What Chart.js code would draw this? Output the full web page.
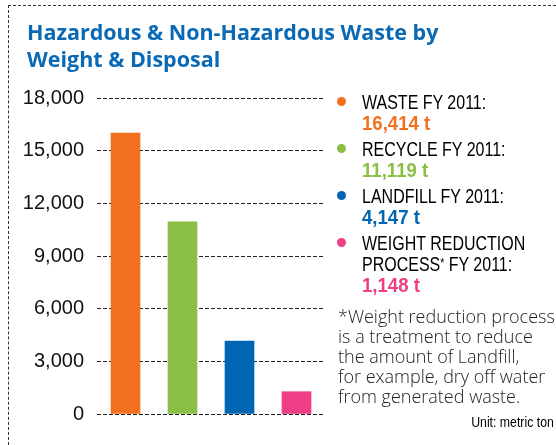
<!DOCTYPE html>
<html>
<head>
<meta charset="utf-8">
<script src="https://cdn.jsdelivr.net/npm/chart.js@4.4.1/dist/chart.umd.min.js"></script>
<style>
  html, body { margin: 0; padding: 0; background: #fff; }
  #wrap { position: relative; width: 556px; height: 445px; overflow: hidden; }
  #frame { position: absolute; left: 8px; top: 5px; right: -10px; bottom: -10px;
           border-left: 1px dashed #333; border-top: 1px dashed #333; }
  #chart { position: absolute; left: 0; top: 0; }
  #title { position: absolute; left: 27px; top: 18px; margin: 0;
           font: 700 21.5px "Open Sans", sans-serif; line-height: 27px; color: #0a69b4; }
  #legend { position: absolute; left: 336px; top: 90.6px; }
  .item { position: relative; padding-left: 26px; margin-bottom: 6px; }
  .item:last-child { margin-top: 4px; }
  .dot { position: absolute; left: 1px; top: 6px; width: 9px; height: 9px; border-radius: 50%; }
  .lbl { white-space: nowrap; line-height: 21px; height: 21px; }
  .val { white-space: nowrap; line-height: 20px; height: 20px; }
  .lbl span { display: inline-block; transform: scaleX(0.8); transform-origin: left;
              font: 400 20px "Liberation Sans", Arial, sans-serif; color: #000; }
  .val span { display: inline-block; transform: scaleX(0.93); transform-origin: left;
              font: 700 20px "Liberation Sans", Arial, sans-serif; }
  .lbl span.ast { font-size: 13px; line-height: 0; vertical-align: 4px; transform: none; }
  #note { position: absolute; left: 338px; top: 306.3px; width: 260px;
          font: 300 18px "Open Sans", sans-serif; line-height: 20px; color: #222; white-space: nowrap; }
  #unit { position: absolute; right: 2px; top: 414px;
          font: 400 15px "Liberation Sans", Arial, sans-serif; line-height: 15px; color: #000; }
  #unit span { display: inline-block; transform: scaleX(0.82); transform-origin: right; }
</style>
</head>
<body>
<div id="wrap">
  <div id="frame"></div>
  <canvas id="chart" width="556" height="445"></canvas>
  <h1 id="title">Hazardous &amp; Non-Hazardous Waste by<br>Weight &amp; Disposal</h1>
  <div id="legend"></div>
  <div id="note"></div>
  <div id="unit"><span>Unit: metric ton</span></div>
</div>
<script>
// ---- Data ----
const categories = ["Waste", "Recycle", "Landfill", "Weight reduction process"];
const barValues  = [16000, 10950, 4150, 1270];
const totals     = [16414, 11119, 4147, 1148];
const legendLines = [
  ["WASTE FY 2011:"],
  ["RECYCLE FY 2011:"],
  ["LANDFILL FY 2011:"],
  ["WEIGHT REDUCTION", "PROCESS* FY 2011:"],
];
const yTicks = [0, 3000, 6000, 9000, 12000, 15000, 18000];
const noteLines = [
  "*Weight reduction process",
  "is a treatment to reduce",
  "the amount of Landfill,",
  "for example, dry off water",
  "from generated waste.",
];

// ---- Colors ----
const C = {
  bars:  ["#f37021", "#8bbe45", "#0066b3", "#ee3e86"],
  grid:  "#222",
  tick:  "#111",
};

// ---- Legend + footnote (HTML) ----
const legend = document.getElementById("legend");
categories.forEach((cat, i) => {
  const item = document.createElement("div");
  item.className = "item";
  const lines = legendLines[i].map(t =>
    `<div class="lbl"><span>${t.replace("*", '<span class="ast">*</span>')}</span></div>`).join("");
  item.innerHTML =
    `<div class="dot" style="background:${C.bars[i]}"></div>` + lines +
    `<div class="val"><span style="color:${C.bars[i]}">${totals[i].toLocaleString("en-US")} t</span></div>`;
  legend.appendChild(item);
});
document.getElementById("note").innerHTML = noteLines.join("<br>");

// ---- Chart ----
new Chart(document.getElementById("chart"), {
  type: "bar",
  data: {
    labels: categories,
    datasets: [{
      data: barValues,
      backgroundColor: C.bars,
      borderWidth: 0,
      barThickness: 29,
    }]
  },
  options: {
    responsive: false,
    animation: false,
    events: [],
    layout: { padding: { left: 18, right: 231, top: 98, bottom: 31 } },
    plugins: { legend: { display: false }, tooltip: { enabled: false } },
    scales: {
      x: { display: false },
      y: {
        min: yTicks[0],
        max: yTicks[yTicks.length - 1],
        afterBuildTicks: s => { s.ticks = yTicks.map(v => ({ value: v })); },
        afterFit: s => { s.width = 79; },
        grid: { color: C.grid, lineWidth: 1, drawTicks: false },
        border: { display: false, dash: [4, 2] },
        ticks: {
          padding: 13,
          color: C.tick,
          font: { family: "Liberation Sans", size: 20 },
          callback: v => v.toLocaleString("en-US"),
        }
      }
    }
  }
});
</script>
</body>
</html>
